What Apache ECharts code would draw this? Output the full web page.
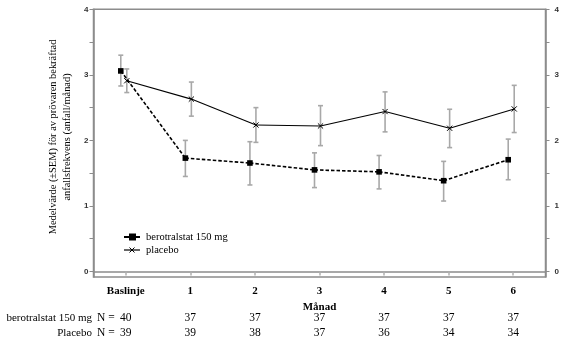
<!DOCTYPE html>
<html><head><meta charset="utf-8">
<script src="https://cdn.jsdelivr.net/npm/echarts@6/dist/echarts.min.js"></script>
<style>html,body{margin:0;padding:0;background:#fff}#c{width:569px;height:345px}</style>
</head><body><div id="c"></div>
<script>
const categories = ['Baslinje', '1', '2', '3', '4', '5', '6'];
const beroMean = [3.06, 1.73, 1.655, 1.55, 1.52, 1.385, 1.705];
const beroLow  = [2.83, 1.45, 1.32, 1.28, 1.26, 1.075, 1.40];
const beroHigh = [3.30, 2.00, 1.98, 1.81, 1.77, 1.68, 2.02];
const placMean = [2.91, 2.63, 2.235, 2.22, 2.44, 2.185, 2.48];
const placLow  = [2.73, 2.37, 1.97, 1.92, 2.13, 1.89, 2.12];
const placHigh = [3.09, 2.89, 2.50, 2.53, 2.74, 2.475, 2.84];
const beroN = [40, 37, 37, 37, 37, 37, 37];
const placN = [39, 39, 38, 37, 36, 34, 34];
const yTicks = [0, 0.5, 1, 1.5, 2, 2.5, 3, 3.5, 4];
const yLabels = [0, 1, 2, 3, 4];

const SERIF = '"Liberation Serif","Times New Roman",serif';
const SANS = '"Liberation Sans",Arial,sans-serif';
const chart = echarts.init(document.getElementById('c'), null, {renderer: 'canvas'});

function errData(mean, low, high) { return mean.map((v, i) => [i, v, low[i], high[i]]); }

function errRender(dx) {
  return function (params, api) {
    const i = api.value(0);
    const lo = api.coord([i, api.value(2)]);
    const hi = api.coord([i, api.value(3)]);
    const x = lo[0] + dx;
    const cap = 2.5;
    const st = {stroke: '#a8a8a8', lineWidth: 1.6};
    return {type: 'group', children: [
      {type: 'line', shape: {x1: x, y1: lo[1], x2: x, y2: hi[1]}, style: st},
      {type: 'line', shape: {x1: x - cap, y1: lo[1], x2: x + cap, y2: lo[1]}, style: st},
      {type: 'line', shape: {x1: x - cap, y1: hi[1], x2: x + cap, y2: hi[1]}, style: st}
    ]};
  };
}

function lineRender(vals, dx, dashed, marker) {
  return function (params, api) {
    const i = api.value(0);
    const p = api.coord([i, api.value(1)]);
    const x = p[0] + dx, y = p[1];
    const children = [];
    if (i + 1 < vals.length) {
      const q = api.coord([i + 1, vals[i + 1]]);
      children.push({type: 'line', shape: {x1: x, y1: y, x2: q[0] + dx, y2: q[1]},
        style: {stroke: '#000', lineWidth: dashed ? 1.6 : 1.1, lineDash: dashed ? [3.5, 2] : null}});
    }
    if (marker === 'square') {
      children.push({type: 'rect', shape: {x: x - 2.8, y: y - 2.8, width: 5.6, height: 5.6}, style: {fill: '#000'}, z2: 5});
    } else {
      const s = 2.6;
      children.push({type: 'line', shape: {x1: x - s, y1: y - s, x2: x + s, y2: y + s}, style: {stroke: '#000', lineWidth: 1}, z2: 5});
      children.push({type: 'line', shape: {x1: x - s, y1: y + s, x2: x + s, y2: y - s}, style: {stroke: '#000', lineWidth: 1}, z2: 5});
    }
    return {type: 'group', children};
  };
}

const axisGray = '#8c8c8c';
const yAxisCommon = (pos, margin) => ({
  type: 'value', min: -0.084, max: 4, position: pos,
  axisLine: {show: true, lineStyle: {color: axisGray, width: 1.5}},
  axisTick: {show: true, length: 4, customValues: yTicks, lineStyle: {color: axisGray}},
  axisLabel: {customValues: yLabels, fontSize: 8, fontWeight: 'bold', fontFamily: SANS, color: '#333', margin: margin},
  splitLine: {show: false}
});

const nAxis = (arr, off) => ({
  type: 'category', data: categories, position: 'bottom', offset: off,
  axisLine: {show: false}, axisTick: {show: false},
  axisLabel: {formatter: (v, i) => String(arr[i]), fontFamily: SERIF, fontSize: 11.5, color: '#000', margin: 0, verticalAlign: 'middle'}
});

chart.setOption({
  animation: false,
  grid: {left: 93.5, right: 23.5, top: 9.3, bottom: 68, containLabel: false, outerBoundsMode: 'none',
    show: true, borderColor: axisGray, borderWidth: 1.5, backgroundColor: 'transparent'},
  xAxis: [
    {type: 'category', data: categories, boundaryGap: true,
      axisLine: {show: true, lineStyle: {color: axisGray, width: 1.5}},
      axisTick: {show: true, alignWithLabel: true, length: 4, lineStyle: {color: '#b0b0b0', width: 1.5}},
      axisLabel: {fontFamily: SERIF, fontWeight: 'bold', fontSize: 11, color: '#000', margin: 9},
      name: 'Månad', nameLocation: 'middle', nameGap: 24,
      nameTextStyle: {fontFamily: SERIF, fontWeight: 'bold', fontSize: 11, color: '#000'}},
    nAxis(beroN, 41),
    nAxis(placN, 56)
  ],
  yAxis: [yAxisCommon('left', 5), yAxisCommon('right', 9)],
  series: [
    {type: 'custom', name: 'err-bero', renderItem: errRender(-5), data: errData(beroMean, beroLow, beroHigh), z: 1},
    {type: 'custom', name: 'err-plac', renderItem: errRender(1), data: errData(placMean, placLow, placHigh), z: 1},
    {type: 'custom', name: 'placebo', renderItem: lineRender(placMean, 1, false, 'x'), data: placMean.map((v, i) => [i, v]), z: 3},
    {type: 'custom', name: 'berotralstat 150 mg', renderItem: lineRender(beroMean, -5, true, 'square'), data: beroMean.map((v, i) => [i, v]), z: 4}
  ],
  graphic: [
    {type: 'text', x: 60, y: 137, rotation: Math.PI / 2,
      style: {text: 'Medelvärde (±SEM) för av prövaren bekräftad\nanfallsfrekvens (anfall/månad)', x: 0, y: 0,
        align: 'center', verticalAlign: 'middle', font: '10.4px ' + SERIF, fill: '#000', lineHeight: 14}},
    {type: 'line', shape: {x1: 124, y1: 237, x2: 140, y2: 237}, style: {stroke: '#000', lineWidth: 2}},
    {type: 'rect', shape: {x: 129, y: 233.5, width: 7, height: 7}, style: {fill: '#000'}},
    {type: 'text', x: 146, y: 237, style: {text: 'berotralstat 150 mg', font: '10.5px ' + SERIF, fill: '#000', verticalAlign: 'middle'}},
    {type: 'line', shape: {x1: 124, y1: 250, x2: 140, y2: 250}, style: {stroke: '#000', lineWidth: 1.2}},
    {type: 'line', shape: {x1: 129.5, y1: 247.5, x2: 134.5, y2: 252.5}, style: {stroke: '#000', lineWidth: 1}},
    {type: 'line', shape: {x1: 129.5, y1: 252.5, x2: 134.5, y2: 247.5}, style: {stroke: '#000', lineWidth: 1}},
    {type: 'text', x: 146, y: 250, style: {text: 'placebo', font: '10.5px ' + SERIF, fill: '#000', verticalAlign: 'middle'}},
    {type: 'text', x: 92, y: 318, style: {text: 'berotralstat 150 mg', font: '11px ' + SERIF, fill: '#000', align: 'right', verticalAlign: 'middle'}},
    {type: 'text', x: 97, y: 318, style: {text: 'N =', font: '11.5px ' + SERIF, fill: '#000', align: 'left', verticalAlign: 'middle'}},
    {type: 'text', x: 92, y: 333, style: {text: 'Placebo', font: '11px ' + SERIF, fill: '#000', align: 'right', verticalAlign: 'middle'}},
    {type: 'text', x: 97, y: 333, style: {text: 'N =', font: '11.5px ' + SERIF, fill: '#000', align: 'left', verticalAlign: 'middle'}}
  ]
});
</script></body></html>
